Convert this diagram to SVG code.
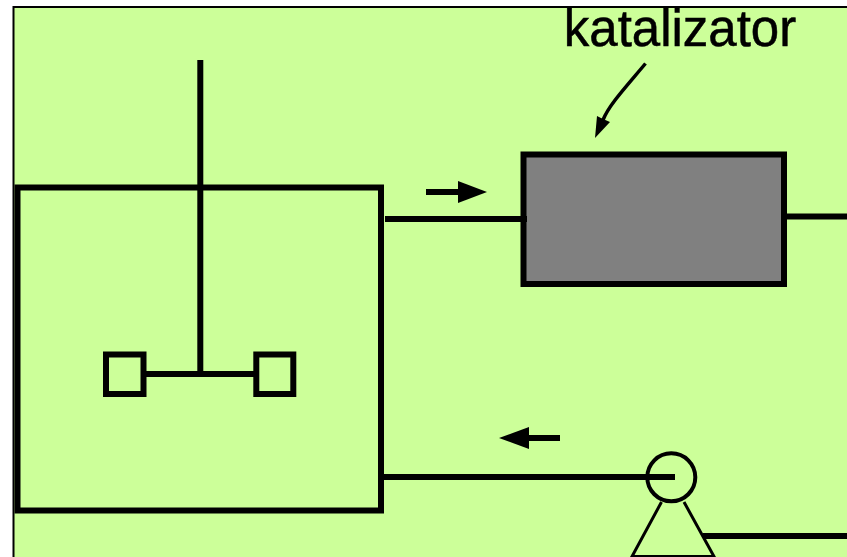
<svg xmlns="http://www.w3.org/2000/svg" width="847" height="557" viewBox="0 0 847 557">
<style>
.ln{fill:none;stroke:#000;stroke-width:6}
.th{fill:none;stroke:#000;stroke-width:3}
.bx{fill:#ccff99;stroke:#000;stroke-width:6}
.ah{fill:#000;stroke:none}
text{font-family:"Liberation Sans",Arial,sans-serif;fill:#000;stroke:#000;stroke-width:.5}
</style>
<rect x="13.500" y="7" width="840" height="560" fill="#ccff99" stroke="#000" stroke-width="2"/>
<g id="reactor">
<rect x="17.500" y="187.500" width="363.500" height="323" fill="none" stroke="#000" stroke-width="6"/>
<path class="ln" d="M200.300 60V374"/>
<path class="ln" d="M146 374H255"/>
<rect class="bx" x="106" y="354.500" width="37.500" height="39.500"/>
<rect class="bx" x="256.300" y="354.500" width="37" height="39.500"/>
</g>
<g id="catalyst">
<rect x="523.500" y="154.500" width="260.500" height="129.500" fill="#808080" stroke="#000" stroke-width="6"/>
</g>
<g id="pump">
<path class="th" d="M661.500 502L632 556.500H714L684 502"/>
<circle cx="671.300" cy="477.300" r="24" fill="none" stroke="#000" stroke-width="4"/>
</g>
<g id="connectors">
<path class="ln" d="M385 219H527"/>
<path class="ln" d="M785 216.500H847"/>
<path class="ln" d="M382 477H675"/>
<path class="ln" d="M703 536H847"/>
<path class="ln" d="M426 192H462"/>
<polygon class="ah" points="458,181 487,192 458,203"/>
<path class="ln" d="M560 438H526"/>
<polygon class="ah" points="529,427 499,438 529,449"/>
<path d="M645.500 63.500C625 88 609 105 603 120" fill="none" stroke="#000" stroke-width="3.500"/>
<polygon class="ah" points="595,138 597,116 603,119 610,122"/>
</g>
<g id="label">
<text x="680" y="46" font-size="51" text-anchor="middle">katalizator</text>
</g>
</svg>
